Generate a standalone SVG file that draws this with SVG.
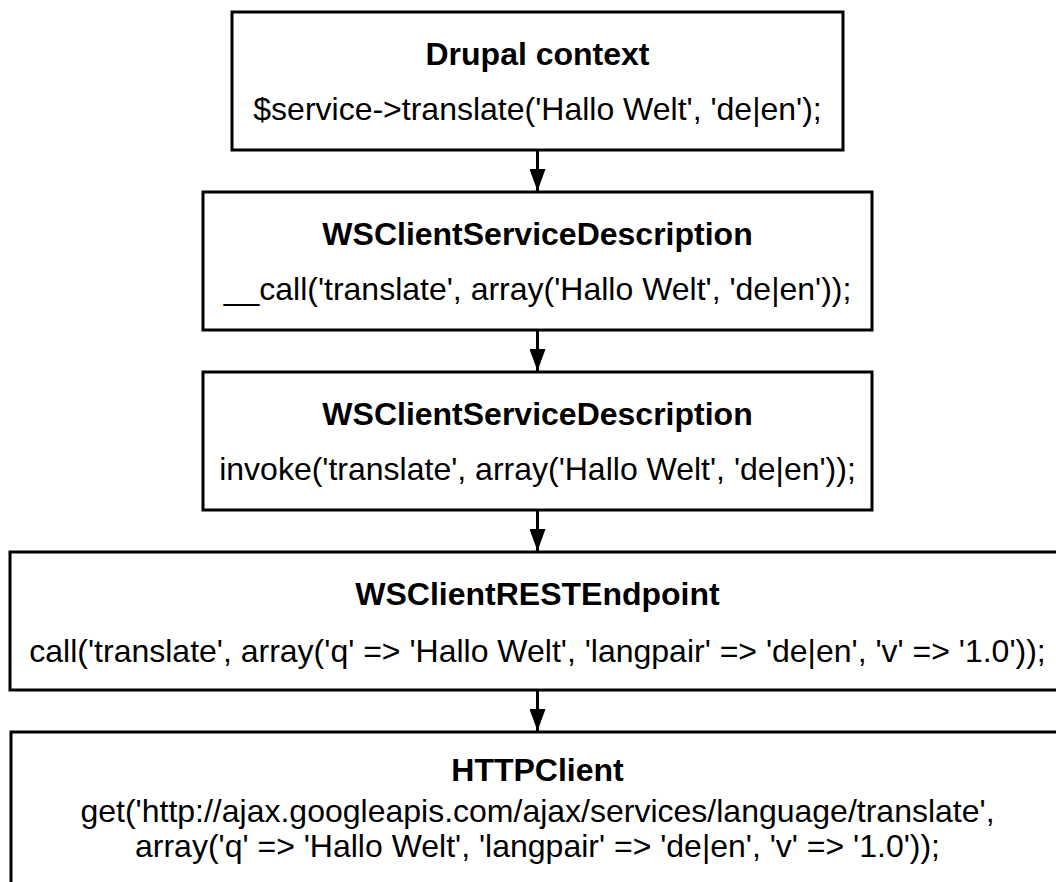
<svg xmlns="http://www.w3.org/2000/svg" width="1056" height="882" viewBox="0 0 1056 882">
  <defs>
    <marker id="arrow" markerWidth="22" markerHeight="16" refX="22" refY="8" orient="auto" markerUnits="userSpaceOnUse" viewBox="0 0 22 16">
      <path d="M0,0 L22,8 L0,16 Z" fill="#000"/>
    </marker>
    <style>
      .box { fill: #fff; stroke: #000; stroke-width: 3; }
      .title { font-family: "Liberation Sans", Arial, sans-serif; font-weight: bold; font-size: 32px; text-anchor: middle; fill: #000; }
      .sub { font-family: "Liberation Sans", Arial, sans-serif; font-size: 32px; text-anchor: middle; fill: #000; }
      .conn { stroke: #000; stroke-width: 3; fill: none; }
    </style>
  </defs>
  <rect width="1056" height="882" fill="#fff"/>
  <g id="connectors">
    <line class="conn" x1="537.5" y1="150" x2="537.5" y2="191" marker-end="url(#arrow)"/>
    <line class="conn" x1="537.5" y1="330" x2="537.5" y2="371" marker-end="url(#arrow)"/>
    <line class="conn" x1="537.5" y1="510" x2="537.5" y2="551" marker-end="url(#arrow)"/>
    <line class="conn" x1="537.5" y1="690" x2="537.5" y2="731" marker-end="url(#arrow)"/>
  </g>
  <g id="node-drupal">
    <rect class="box" x="232" y="12" width="611" height="138"/>
    <text class="title" x="537.5" y="65">Drupal context</text>
    <text class="sub" x="537.5" y="120">$service-&gt;translate('Hallo Welt', 'de|en');</text>
  </g>
  <g id="node-wsclient-call">
    <rect class="box" x="203" y="192" width="669" height="138"/>
    <text class="title" x="537.5" y="245">WSClientServiceDescription</text>
    <text class="sub" x="537.5" y="300">__call('translate', array('Hallo Welt', 'de|en'));</text>
  </g>
  <g id="node-wsclient-invoke">
    <rect class="box" x="203" y="372" width="669" height="138"/>
    <text class="title" x="537.5" y="425">WSClientServiceDescription</text>
    <text class="sub" x="537.5" y="480">invoke('translate', array('Hallo Welt', 'de|en'));</text>
  </g>
  <g id="node-rest">
    <rect class="box" x="10" y="552" width="1055" height="138"/>
    <text class="title" x="537.5" y="605">WSClientRESTEndpoint</text>
    <text class="sub" x="537.5" y="662">call('translate', array('q' =&gt; 'Hallo Welt', 'langpair' =&gt; 'de|en', 'v' =&gt; '1.0'));</text>
  </g>
  <g id="node-http">
    <rect class="box" x="11" y="732" width="1054" height="180"/>
    <text class="title" x="537.5" y="781">HTTPClient</text>
    <text class="sub" x="537.5" y="822">get('http://ajax.googleapis.com/ajax/services/language/translate',</text>
    <text class="sub" x="537.5" y="857">array('q' =&gt; 'Hallo Welt', 'langpair' =&gt; 'de|en', 'v' =&gt; '1.0'));</text>
  </g>
</svg>
